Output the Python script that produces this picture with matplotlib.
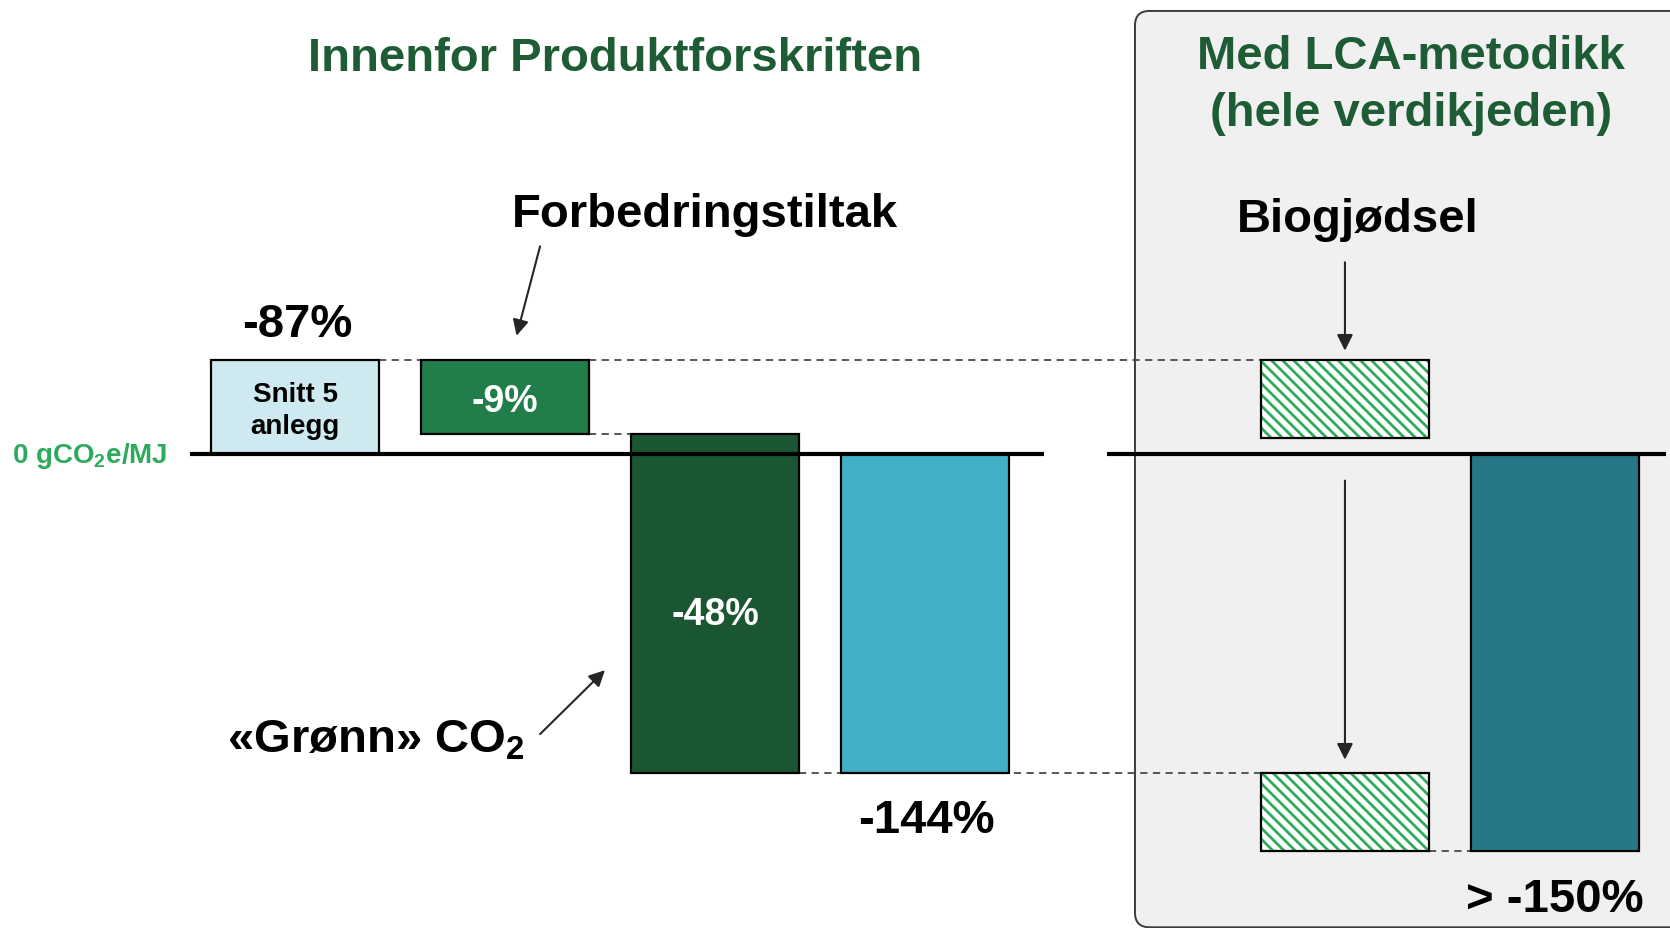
import matplotlib
matplotlib.use('Agg')
import matplotlib.pyplot as plt
from matplotlib.patches import FancyBboxPatch

plt.rcParams['font.family'] = ['Liberation Sans', 'DejaVu Sans']
plt.rcParams['font.weight'] = 'bold'
plt.rcParams['mathtext.fontset'] = 'custom'
plt.rcParams['mathtext.rm'] = 'Liberation Sans:bold'
plt.rcParams['mathtext.bf'] = 'Liberation Sans:bold'
plt.rcParams['hatch.linewidth'] = 2.0

# --- data (chart units, 0 = 0 gCO2e/MJ) ---
base_value = 22.0            # Snitt 5 anlegg
step_values = [-17.25, -79.75]  # Forbedringstiltak, «Grønn» CO2
total_value = -75.0          # result inside Produktforskriften
bio_value = -18.25           # Biogjødsel credit
lca_value = -93.25           # result with LCA
pct_labels = ['-87%', '-9%', '-48%', '-144%', '> -150%']

# colours
title_green = '#1d5c35'
axis_green = '#2eaa5c'
c_snitt = '#cfe9f1'
c_step1 = '#217d4a'
c_step2 = '#1b5632'
c_total = '#42b1c7'
c_lca = '#267886'
c_hatch = '#2eab5b'

fig = plt.figure(figsize=(16.7, 9.29), dpi=100)
ax = fig.add_axes([0, 0, 1, 1])
ax.set_xlim(-1.405, 6.548)
ax.set_ylim(-111.27, 106.8)
ax.axis('off')

w = 0.8
x_left = [0, 1, 2, 3]
x_bio, x_lca = 5, 6

# grey LCA panel (rounded corners, aspect corrected)
px_per_x = 210.0
px_per_y = 4.26
panel = FancyBboxPatch((4.0, -111.1), 3.5, 215.1,
                       boxstyle='round,pad=0,rounding_size=0.07',
                       mutation_aspect=px_per_x / px_per_y,
                       facecolor='#f0f0f0', edgecolor='#3a3a3a', lw=1.4, zorder=0)
ax.add_patch(panel)

# waterfall bars inside Produktforskriften
level1 = base_value + step_values[0]
level2 = level1 + step_values[1]
bar_kw = dict(width=w, edgecolor='black', linewidth=1.6, zorder=2)
ax.bar(x_left[0], base_value, bottom=0, color=c_snitt, **bar_kw)
ax.bar(x_left[1], step_values[0], bottom=base_value, color=c_step1, **bar_kw)
ax.bar(x_left[2], step_values[1], bottom=level1, color=c_step2, **bar_kw)
ax.bar(x_left[3], total_value, bottom=0, color=c_total, **bar_kw)

# biogjødsel hatched blocks
for bottom in [base_value, total_value]:
    ax.bar(x_bio, bio_value, bottom=bottom, width=w, color='white',
           edgecolor=c_hatch, hatch='\\\\\\', linewidth=0, zorder=2)
    ax.bar(x_bio, bio_value, bottom=bottom, width=w, fill=False,
           edgecolor='black', linewidth=1.6, zorder=3)
ax.bar(x_lca, lca_value, bottom=0, color=c_lca, **bar_kw)

# dashed connectors
dash = dict(color='#4a4a4a', lw=1.3, ls=(0, (4, 3)), zorder=1)
ax.plot([x_left[0] + w / 2, x_left[1] - w / 2], [base_value] * 2, **dash)
ax.plot([x_left[1] + w / 2, x_bio - w / 2], [base_value] * 2, **dash)
ax.plot([x_left[1] + w / 2, x_left[2] - w / 2], [level1] * 2, **dash)
ax.plot([x_left[2] + w / 2, x_bio - w / 2], [level2] * 2, **dash)
ax.plot([x_bio + w / 2, x_lca - w / 2], [total_value + bio_value] * 2, **dash)

# zero lines
ax.plot([-0.502, 3.565], [0, 0], color='black', lw=3, zorder=4, solid_capstyle='butt')
ax.plot([3.869, 6.53], [0, 0], color='black', lw=3, zorder=4, solid_capstyle='butt')

# labels
big = 34
ax.text(1.526, 90.25, 'Innenfor Produktforskriften', color=title_green, fontsize=big,
        ha='center', va='baseline')
ax.text(5.314, 90.5, 'Med LCA-metodikk', color=title_green, fontsize=big,
        ha='center', va='baseline')
ax.text(5.314, 77.25, '(hele verdikjeden)', color=title_green, fontsize=big,
        ha='center', va='baseline')
ax.text(1.952, 53.5, 'Forbedringstiltak', fontsize=big, ha='center', va='baseline')
ax.text(5.06, 52.25, 'Biogjødsel', fontsize=big, ha='center', va='baseline')
ax.text(0.01, 27.75, pct_labels[0], fontsize=big, ha='center', va='baseline')
ax.text(3.007, -88.75, pct_labels[3], fontsize=big, ha='center', va='baseline')
ax.text(6.0, -107.25, pct_labels[4], fontsize=big, ha='center', va='baseline')
ax.text(0.385, -69.75, '«Grønn» CO$_2$', fontsize=big, ha='center', va='baseline')
ax.text(-0.979, -2, '0 gCO$_2$e/MJ', color=axis_green, fontsize=20,
        ha='center', va='baseline')

ax.text(x_left[0], 12.5, 'Snitt 5', fontsize=20, ha='center', va='baseline')
ax.text(x_left[0], 5.0, 'anlegg', fontsize=20, ha='center', va='baseline')
ax.text(x_left[1], 10.0, pct_labels[1], color='white', fontsize=27, ha='center', va='baseline')
ax.text(x_left[2], -40.0, pct_labels[2], color='white', fontsize=27, ha='center', va='baseline')

# arrows
arr = dict(arrowstyle='-|>', color='#262626', lw=1.5, mutation_scale=24,
           shrinkA=0, shrinkB=0)
ax.annotate('', xy=(1.055, 27.75), xytext=(1.167, 48.75), arrowprops=arr)
ax.annotate('', xy=(1.476, -50.75), xytext=(1.167, -65.75), arrowprops=arr)
ax.annotate('', xy=(5.0, 24.25), xytext=(5.0, 45.0), arrowprops=arr)
ax.annotate('', xy=(5.0, -71.75), xytext=(5.0, -6.25), arrowprops=arr)

fig.savefig('out.png', dpi=100)
